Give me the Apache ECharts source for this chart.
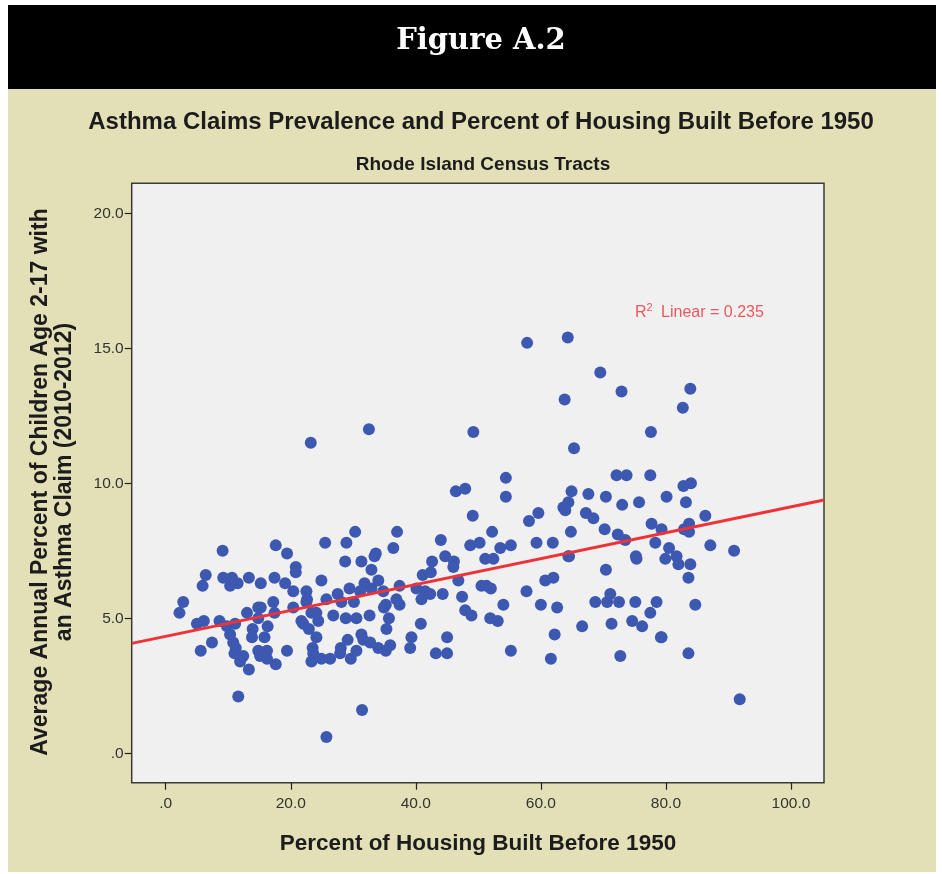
<!DOCTYPE html>
<html>
<head>
<meta charset="utf-8">
<script src="https://cdn.jsdelivr.net/npm/echarts@6/dist/echarts.min.js"></script>
<style>
html,body{margin:0;padding:0;background:#fff;}
#chart{width:942px;height:874px;}
</style>
</head>
<body>
<div id="chart"></div>
<script>
// ---- Data ----
const figureLabel = 'Figure A.2';
const chartTitle = 'Asthma Claims Prevalence and Percent of Housing Built Before 1950';
const chartSubtitle = 'Rhode Island Census Tracts';
const xAxisTitle = 'Percent of Housing Built Before 1950';
const yAxisTitle = 'Average Annual Percent of Children Age 2-17 with\nan Asthma Claim (2010-2012)';

const xTickValues = [0, 20, 40, 60, 80, 100];
const yTickValues = [0, 5, 10, 15, 20];
const xRange = [-5.44, 105.28];
const yRange = [-1.09, 21.11];

// Census tracts: [percent housing built before 1950, asthma claim %]
const tractsLow = [
[23.2,11.5],[32.5,12.0],[28.7,7.1],[31.3,7.1],[25.5,7.8],[30.3,8.2],[28.9,7.8],[33.6,7.4],[33.4,7.3],[32.9,6.8],
[34.0,6.4],[31.8,6.3],[37.0,8.2],[36.4,7.6],[37.4,6.2],[36.9,5.7],[37.4,5.5],[35.2,5.5],[34.9,5.4],[35.7,5.0],
[35.3,4.6],[32.6,5.1],[30.5,5.0],[28.8,5.0],[26.8,5.1],[32.9,6.1],[34.8,6.0],[29.4,6.1],[31.1,6.0],[30.1,5.6],
[28.1,5.6],[27.5,5.9],[25.7,5.7],[24.9,6.4],[22.5,6.0],[22.6,5.7],[20.4,6.0],[20.4,5.4],[20.8,6.9],[20.8,6.7],
[19.4,7.4],[17.6,7.7],[19.1,6.3],[17.4,6.5],[15.2,6.3],[13.3,6.5],[9.1,7.5],[6.4,6.6],[5.9,6.2],[9.2,6.5],
[10.6,6.5],[10.3,6.2],[11.5,6.3],[2.8,5.6],[2.2,5.2],[5.0,4.8],[6.1,4.9],[8.6,4.9],[7.4,4.1],[5.6,3.8],
[9.8,4.7],[10.3,4.4],[11.1,4.8],[10.8,4.1],[11.2,3.9],[11.0,3.7],[11.9,3.4],[12.4,3.6],[13.3,3.1],[13.0,5.2],
[13.9,4.6],[13.8,4.3],[14.8,5.4],[15.2,5.4],[14.8,5.0],[15.8,4.3],[16.3,4.7],[17.2,5.6],[17.4,5.2],[14.8,3.8],
[16.2,3.8],[15.1,3.6],[16.2,3.5],[17.6,3.3],[19.4,3.8],[21.7,4.9],[22.0,4.8],[22.9,4.6],[22.5,5.6],[23.3,5.2],
[24.4,4.9],[24.1,5.2],[24.1,4.3],[23.5,3.9],[23.6,3.7],[23.3,3.4],[24.9,3.5],[26.3,3.5],[28.0,3.9],[27.9,3.7],
[29.1,4.2],[29.6,3.5],[30.5,3.8],[31.3,4.4],[31.6,4.2],[32.7,4.1],[34.0,3.9],[35.2,3.8],[35.9,4.0],[31.4,1.6],
[25.7,0.6],[11.6,2.1]
];
const tractsMid = [
[46.4,9.7],[47.9,9.8],[44.0,7.9],[42.6,7.1],[44.7,7.3],[46.1,7.1],[46.0,6.9],[41.1,6.6],[42.4,6.7],[46.8,6.4],
[40.1,6.1],[41.5,6.0],[42.3,5.9],[40.9,5.7],[44.3,5.9],[47.4,5.8],[47.9,5.3],[40.8,4.8],[39.3,4.3],[39.1,3.9],
[43.2,3.7],[45.0,3.7],[45.0,4.3],[49.2,11.9],[54.4,10.2],[54.4,9.5],[49.1,8.8],[52.2,8.2],[48.7,7.7],[50.2,7.8],
[53.5,7.6],[55.2,7.7],[51.1,7.2],[52.4,7.2],[50.5,6.2],[51.3,6.2],[52.0,6.1],[57.7,6.0],[54.0,5.5],[48.9,5.1],
[51.9,5.0],[53.1,4.9],[55.2,3.8],[57.8,15.2],[58.1,8.6],[59.6,8.9],[59.3,7.8]
];
const tractsHigh = [
[64.3,15.4],[63.8,13.1],[69.5,14.1],[72.9,13.4],[83.9,13.5],[82.7,12.8],[77.6,11.9],[65.3,11.3],[72.1,10.3],[73.7,10.3],
[77.5,10.3],[82.8,9.9],[84.0,10.0],[64.9,9.7],[67.6,9.6],[70.4,9.5],[73.0,9.2],[75.7,9.3],[80.1,9.5],[83.2,9.3],
[63.6,9.1],[64.4,9.3],[63.9,9.0],[67.2,8.9],[68.4,8.7],[86.3,8.8],[77.7,8.5],[79.3,8.3],[83.7,8.5],[82.9,8.3],
[83.7,8.2],[64.8,8.2],[70.2,8.3],[72.3,8.1],[73.5,7.9],[61.9,7.8],[78.3,7.8],[80.5,7.6],[87.1,7.7],[90.9,7.5],
[64.4,7.3],[64.5,7.3],[75.2,7.3],[75.3,7.2],[79.9,7.2],[81.7,7.3],[82.0,7.0],[83.9,7.0],[70.4,6.8],[60.7,6.4],
[62.0,6.5],[83.6,6.5],[60.0,5.5],[62.6,5.4],[68.7,5.6],[70.6,5.6],[71.1,5.9],[72.5,5.6],[75.1,5.6],[78.5,5.6],
[77.5,5.2],[84.7,5.5],[66.6,4.7],[71.3,4.8],[74.6,4.9],[76.2,4.7],[62.2,4.4],[79.2,4.3],[79.3,4.3],[61.6,3.5],
[72.7,3.6],[83.6,3.7],[91.8,2.0]
];

// Linear fit line end points (across the plotted x range)
const fitLine = [[-5.44, 4.07], [105.28, 9.38]];
const fitR2 = '0.235';
const fitLabelAt = [75.05, 16.31];

// ---- Chart ----
const chart = echarts.init(document.getElementById('chart'), null, {renderer: 'canvas'});
const tickFmt = v => (v === 0 ? '.0' : v.toFixed(1));
const SANS = 'Liberation Sans, Arial, sans-serif';

const option = {
  backgroundColor: '#ffffff',
  animation: false,
  graphic: [
    {type: 'rect', z: -10, shape: {x: 8, y: 5, width: 928, height: 84}, style: {fill: '#000000'}},
    {type: 'rect', z: -10, shape: {x: 8, y: 89, width: 928, height: 783}, style: {fill: '#e3e0b7'}},
    {type: 'text', x: 481, y: 41, style: {text: figureLabel, fill: '#ffffff', align: 'center', verticalAlign: 'middle',
      font: 'bold 29px "DejaVu Serif", serif'}},
    {type: 'text', x: 481, y: 122, style: {text: chartTitle, fill: '#1c1c1c', align: 'center', verticalAlign: 'middle',
      font: 'bold 24px ' + SANS}},
    {type: 'text', x: 483, y: 165, style: {text: chartSubtitle, fill: '#1c1c1c', align: 'center', verticalAlign: 'middle',
      font: 'bold 19px ' + SANS}},
    {type: 'text', x: 478, y: 844, style: {text: xAxisTitle, fill: '#1c1c1c', align: 'center', verticalAlign: 'middle',
      font: 'bold 22.5px ' + SANS}},
    {type: 'text', x: 53, y: 482, rotation: Math.PI / 2, style: {text: yAxisTitle, fill: '#1c1c1c', align: 'center',
      verticalAlign: 'middle', lineHeight: 24, font: 'bold 23px ' + SANS}}
  ],
  grid: {
    left: 131.7, top: 183.3, right: 118, bottom: 91.3,
    show: true, backgroundColor: '#f0f0f0', borderColor: '#3a3a3a', borderWidth: 1.5
  },
  xAxis: {
    type: 'value', min: xRange[0], max: xRange[1],
    axisLine: {show: false, onZero: false},
    splitLine: {show: false},
    axisTick: {show: true, inside: false, length: 7, customValues: xTickValues, lineStyle: {color: '#222', width: 1.2}},
    axisLabel: {show: true, customValues: xTickValues, formatter: tickFmt, margin: 13,
      color: '#333', fontSize: 15.5, fontFamily: SANS}
  },
  yAxis: {
    type: 'value', min: yRange[0], max: yRange[1],
    axisLine: {show: false, onZero: false},
    splitLine: {show: false},
    axisTick: {show: true, inside: false, length: 7, customValues: yTickValues, lineStyle: {color: '#222', width: 1.2}},
    axisLabel: {show: true, customValues: yTickValues, formatter: tickFmt, margin: 8,
      color: '#333', fontSize: 15.5, fontFamily: SANS}
  },
  series: [
    {type: 'scatter', name: 'low', data: tractsLow, symbolSize: 12, itemStyle: {color: '#3d58b0', opacity: 1}, z: 3},
    {type: 'scatter', name: 'mid', data: tractsMid, symbolSize: 12, itemStyle: {color: '#3d58b0', opacity: 1}, z: 3},
    {type: 'scatter', name: 'high', data: tractsHigh, symbolSize: 12, itemStyle: {color: '#3d58b0', opacity: 1}, z: 3},
    {type: 'line', name: 'fit', data: fitLine, symbol: 'none', lineStyle: {color: '#ee3338', width: 3}, z: 4,
      silent: true},
    {type: 'scatter', name: 'r2', data: [fitLabelAt], symbolSize: 0, z: 5, silent: true,
      label: {show: true, position: 'right', distance: 0,
        formatter: () => 'R{s|2} Linear = ' + fitR2,
        color: '#ee2f3a', fontSize: 16, fontFamily: SANS,
        rich: {s: {fontSize: 11, verticalAlign: 'top', color: '#ee2f3a', padding: [0, 4, 9, 0], fontFamily: SANS}}}}
  ]
};
chart.setOption(option);
</script>
</body>
</html>
